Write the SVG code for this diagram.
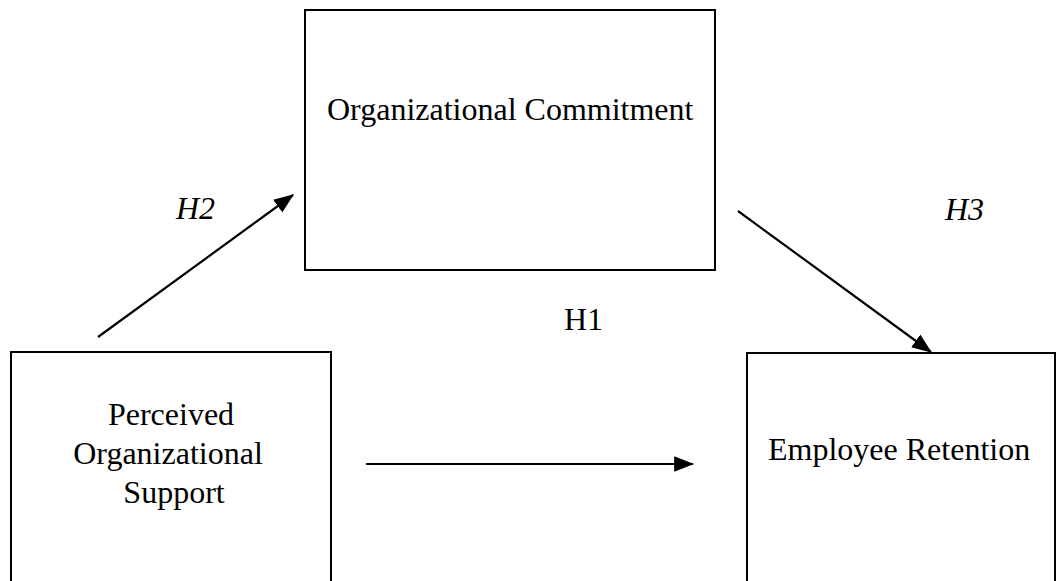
<svg xmlns="http://www.w3.org/2000/svg" width="1057" height="581" viewBox="0 0 1057 581">
<style>
.box{fill:#fff;stroke:#000;stroke-width:2}
.lbl{font-family:"Liberation Serif","Times New Roman",serif;font-size:32px;fill:#000}
.it{font-style:italic}
.conn{stroke:#000;stroke-width:2.2;fill:none}
</style>
<defs>
<marker id="arr" markerUnits="userSpaceOnUse" markerWidth="20" markerHeight="16" refX="17" refY="7" orient="auto" viewBox="0 0 18 14">
<path d="M0,0 L18,7 L0,14 Z" fill="#000"/>
</marker>
</defs>
<rect width="1057" height="581" fill="#fff"/>
<g id="node-oc">
<rect class="box" x="305" y="10" width="410" height="260"/>
<text class="lbl" x="327" y="120">Organizational Commitment</text>
</g>
<g id="node-pos">
<rect class="box" x="11" y="352" width="320" height="240"/>
<text class="lbl" x="171" y="425" text-anchor="middle">Perceived</text>
<text class="lbl" x="168" y="464" text-anchor="middle">Organizational</text>
<text class="lbl" x="174" y="503" text-anchor="middle">Support</text>
</g>
<g id="node-er">
<rect class="box" x="747" y="353" width="308" height="240"/>
<text class="lbl" x="768" y="460">Employee Retention</text>
</g>
<g id="connectors">
<line class="conn" x1="98" y1="337" x2="293" y2="195" marker-end="url(#arr)"/>
<line class="conn" x1="738" y1="211" x2="931" y2="352" marker-end="url(#arr)"/>
<line class="conn" x1="366" y1="464" x2="693" y2="464" marker-end="url(#arr)"/>
</g>
<g id="labels">
<text class="lbl it" x="176" y="219">H2</text>
<text class="lbl it" x="945" y="220">H3</text>
<text class="lbl" x="564" y="330">H1</text>
</g>
</svg>
